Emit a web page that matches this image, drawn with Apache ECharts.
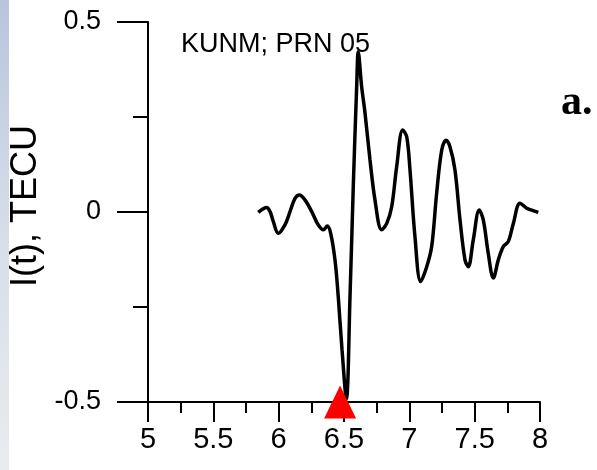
<!DOCTYPE html>
<html>
<head>
<meta charset="utf-8">
<script src="https://cdn.jsdelivr.net/npm/echarts@6/dist/echarts.min.js"></script>
<style>
  html, body { margin: 0; padding: 0; background: #fff; }
  #main { width: 597px; height: 470px; }
</style>
</head>
<body>
<div id="main"></div>
<script>
// time, hours (UT)
var timeHours = [5.844, 5.908, 5.934, 5.959, 5.997, 6.048, 6.087, 6.125, 6.158, 6.201,
  6.253, 6.303, 6.342, 6.372, 6.398, 6.431, 6.456, 6.485, 6.518, 6.546, 6.571, 6.597,
  6.609, 6.635, 6.661, 6.699, 6.737, 6.788, 6.827, 6.865, 6.903, 6.949, 6.980, 7.005,
  7.043, 7.087, 7.133, 7.171, 7.209, 7.248, 7.281, 7.311, 7.349, 7.388, 7.426, 7.451,
  7.489, 7.535, 7.566, 7.604, 7.643, 7.681, 7.719, 7.757, 7.796, 7.847, 7.898, 7.936, 7.987];
// I(t), TECU
var tecValues = [-0.001, 0.012, 0.001, -0.025, -0.056, -0.034, 0.001, 0.036, 0.045, 0.032,
  0.001, -0.034, -0.047, -0.037, -0.056, -0.126, -0.223, -0.363, -0.492, -0.223, 0.067, 0.330,
  0.421, 0.330, 0.260, 0.137, 0.032, -0.047, -0.030, 0.014, 0.119, 0.216, 0.198, 0.111,
  -0.065, -0.183, -0.144, -0.091, 0.049, 0.163, 0.189, 0.172, 0.111, -0.021, -0.126, -0.144,
  -0.074, 0.005, -0.021, -0.109, -0.174, -0.126, -0.091, -0.078, -0.030, 0.023, 0.010, 0.005, -0.001];
// earthquake moment marker
var eventX = [6.47];
var eventY = [-0.5];

var chart = echarts.init(document.getElementById('main'), null, { renderer: 'canvas' });

var lineData = timeHours.map(function (t, i) { return [t, tecValues[i]]; });
var eventData = eventX.map(function (t, i) { return [t, eventY[i]]; });

var font = '"Liberation Sans", Arial, sans-serif';

var option = {
  animation: false,
  backgroundColor: '#fff',
  grid: { left: 148, top: 22, right: 57, bottom: 68 },
  graphic: [
    {
      type: 'rect', left: 0, top: 0, z: -10,
      shape: { width: 9, height: 470 },
      style: {
        fill: new echarts.graphic.LinearGradient(0, 0, 0, 1, [
          { offset: 0, color: '#b9c5dd' },
          { offset: 0.5, color: '#d7dee8' },
          { offset: 1, color: '#e9ecef' }
        ])
      }
    },
    {
      type: 'text', left: 181, top: 31,
      style: { text: 'KUNM; PRN 05', font: '27px ' + font, fill: '#000' }
    },
    {
      type: 'text', left: 561, top: 82,
      style: { text: 'a.', font: 'bold 42px "Liberation Serif", "Times New Roman", serif', fill: '#000' }
    },
    {
      type: 'text', left: 8, top: 125,
      rotation: Math.PI / 2,
      style: { text: 'I(t), TECU', font: '36px ' + font, fill: '#000' }
    }
  ],
  xAxis: {
    type: 'value',
    min: 5, max: 8, interval: 0.5,
    axisLine: { show: true, onZero: false, lineStyle: { color: '#000', width: 2 } },
    axisTick: { show: true, inside: false, length: 20, lineStyle: { color: '#000', width: 2 } },
    minorTick: { show: true, splitNumber: 2, length: 11, lineStyle: { color: '#000', width: 2 } },
    splitLine: { show: false },
    axisLabel: { color: '#000', fontSize: 29, fontFamily: font, margin: 23 }
  },
  yAxis: {
    type: 'value',
    min: -0.5, max: 0.5, interval: 0.5,
    axisLine: { show: true, onZero: false, lineStyle: { color: '#000', width: 2 } },
    axisTick: { show: true, inside: false, length: 31, lineStyle: { color: '#000', width: 2 } },
    minorTick: { show: true, splitNumber: 2, length: 15, lineStyle: { color: '#000', width: 2 } },
    splitLine: { show: false },
    axisLabel: { color: '#000', fontSize: 27, fontFamily: font, margin: 47 }
  },
  series: [
    {
      type: 'line',
      data: lineData,
      smooth: 0.35,
      showSymbol: false,
      lineStyle: { color: '#000', width: 3.5 },
      z: 2
    },
    {
      type: 'scatter',
      data: eventData,
      symbol: 'triangle',
      symbolSize: [32, 33],
      itemStyle: { color: '#ff0000', opacity: 1 },
      z: 5
    }
  ]
};

chart.setOption(option);
</script>
</body>
</html>
